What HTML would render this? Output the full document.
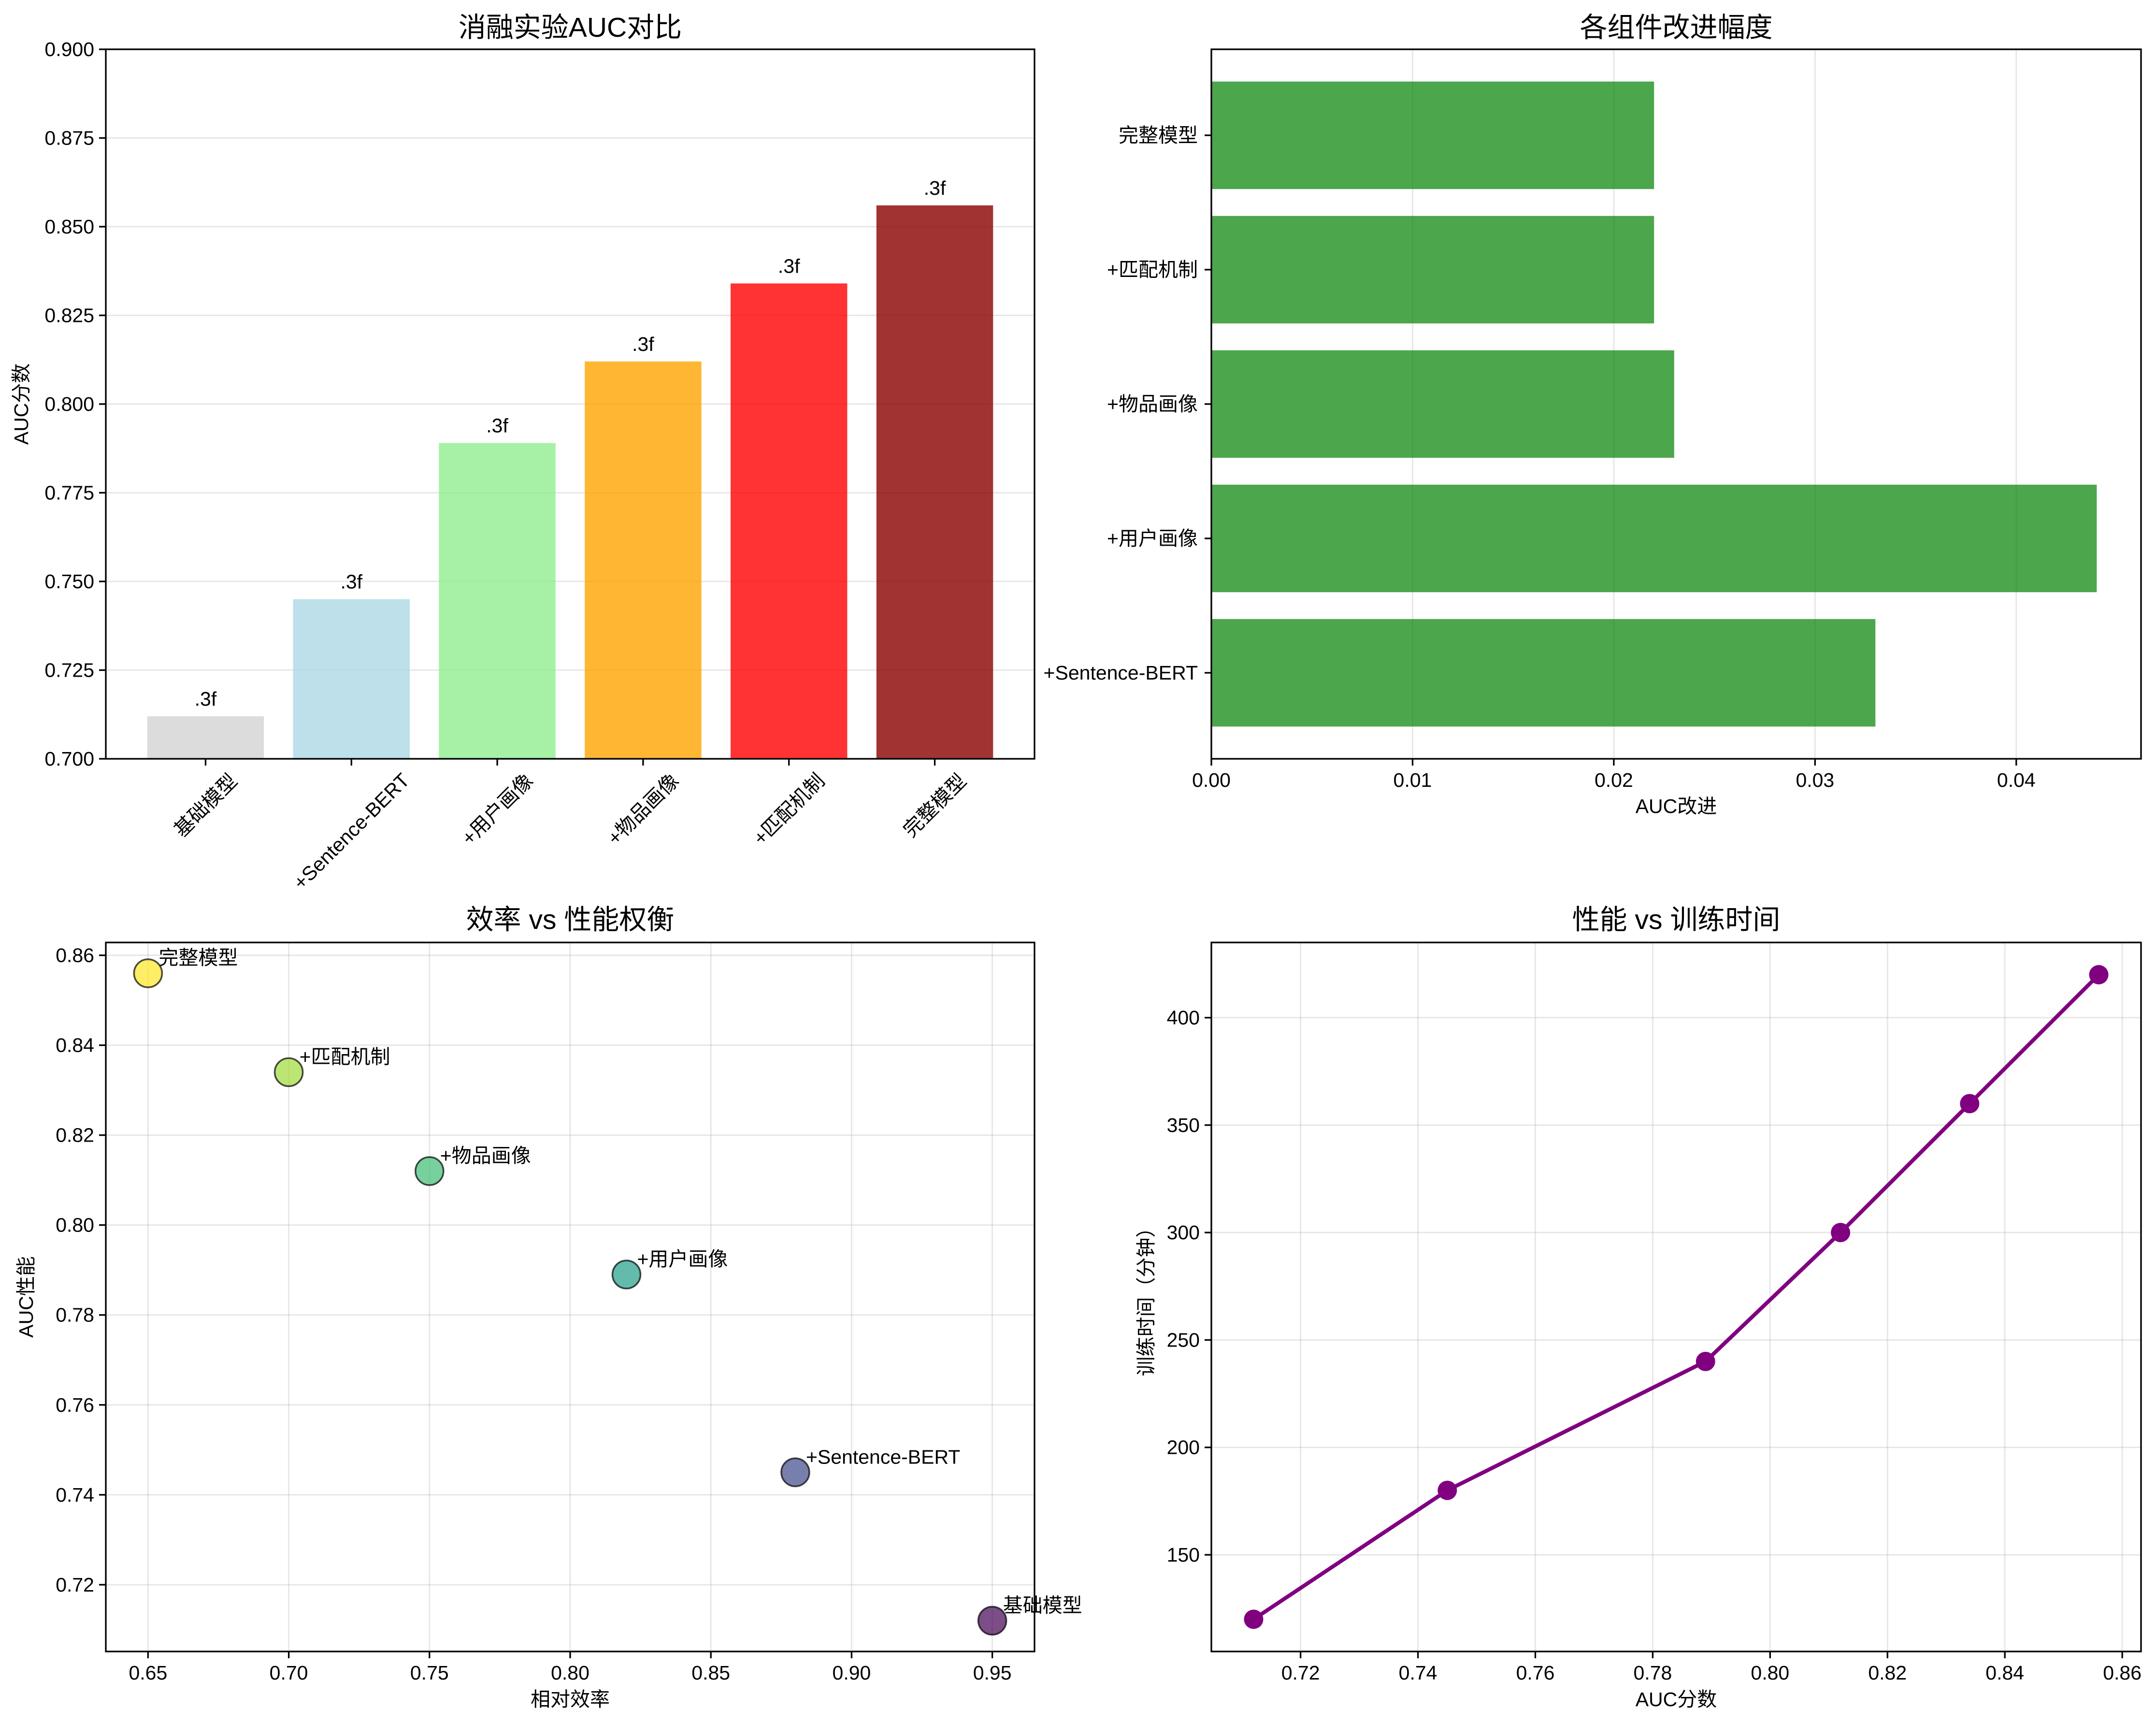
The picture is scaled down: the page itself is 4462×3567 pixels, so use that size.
<!DOCTYPE html>
<html><head><meta charset="utf-8">
<style>
html,body{margin:0;padding:0;background:#fff;}
svg{display:block;}
text{font-family:"Liberation Sans","Noto Sans CJK SC",sans-serif;fill:#000;}
</style></head>
<body>
<svg id="fig" width="4462" height="3567" viewBox="0 0 4462 3567" xmlns="http://www.w3.org/2000/svg"></svg>
<script>
// ---- data ----
const models = ['基础模型','+Sentence-BERT','+用户画像','+物品画像','+匹配机制','完整模型'];
const aucValues = [0.712,0.745,0.789,0.812,0.834,0.856];
const barColors = ['lightgray','lightblue','lightgreen','orange','red','darkred'];
const barLabel = '.3f';
const aucTicks = [0.700,0.725,0.750,0.775,0.800,0.825,0.850,0.875,0.900];
const improveNames = ['+Sentence-BERT','+用户画像','+物品画像','+匹配机制','完整模型'];
const improveValues = [0.033,0.044,0.023,0.022,0.022];
const improveTicks = [0.00,0.01,0.02,0.03,0.04];
const efficiency = [0.95,0.88,0.82,0.75,0.70,0.65];
const effTicksX = [0.65,0.70,0.75,0.80,0.85,0.90,0.95];
const effTicksY = [0.72,0.74,0.76,0.78,0.80,0.82,0.84,0.86];
const scatterColors = ['#440154','#3e4989','#1f9e89','#3fbc73','#a0da39','#fde725'];
const trainTime = [120,180,240,300,360,420];
const timeTicksX = [0.72,0.74,0.76,0.78,0.80,0.82,0.84,0.86];
const timeTicksY = [150,200,250,300,350,400];

const NS='http://www.w3.org/2000/svg';
const svg=document.getElementById('fig');
function mk(tag,attrs,parent,txt){const e=document.createElementNS(NS,tag);for(const k in attrs)e.setAttribute(k,attrs[k]);if(txt!==undefined)e.textContent=txt;(parent||svg).appendChild(e);return e;}
function lin(d0,d1,r0,r1){return v=>r0+(v-d0)/(d1-d0)*(r1-r0);}
const FS=41;

function frame(g,L,T,R,B){
  const f=mk('rect',{x:L,y:T,width:R-L,height:B-T,fill:'none',stroke:'#000','stroke-width':3.3},g);
  
  
}
function title(g,cx,y,t){const e=mk('text',{x:cx,y:y,'font-size':57,'text-anchor':'middle'},g,t);
  }
function xTicks(g,ticks,sx,B,T,fmt,grid){
  ticks.forEach(v=>{const x=sx(v);
    if(grid){const gl=mk('line',{x1:x,x2:x,y1:T,y2:B,stroke:'#b0b0b0','stroke-opacity':0.3,'stroke-width':3},g);}
    mk('line',{x1:x,x2:x,y1:B,y2:B+14,stroke:'#000','stroke-width':3.3},g);
    const t=mk('text',{x:x,y:B+58,'font-size':FS,'text-anchor':'middle'},g,fmt(v));
    });
}
function yTicks(g,ticks,sy,L,R,fmt,grid){
  ticks.forEach(v=>{const y=sy(v);
    if(grid){const gl=mk('line',{x1:L,x2:R,y1:y,y2:y,stroke:'#b0b0b0','stroke-opacity':0.3,'stroke-width':3},g);}
    mk('line',{x1:L-14,x2:L,y1:y,y2:y,stroke:'#000','stroke-width':3.3},g);
    const t=mk('text',{x:L-24,y:y+14,'font-size':FS,'text-anchor':'end'},g,fmt(v));
    });
}
function yLabel(g,x,cy,t){const e=mk('text',{x:x,y:cy,'font-size':FS,'text-anchor':'middle',transform:`rotate(-90 ${x} ${cy})`},g,t);
  }
function xLabel(g,cx,y,t){const e=mk('text',{x:cx,y:y,'font-size':FS,'text-anchor':'middle'},g,t);
  }

// ---- panel 1: bar chart ----
{
  const g=mk('g',{});
  const L=219,R=2141,T=102,B=1570;
  const sx=lin(-0.684,5.684,L,R), sy=lin(0.7,0.9,B,T);
  yTicks(g,aucTicks,sy,L,R,v=>v.toFixed(3),true);
  models.forEach((m,i)=>{
    const x0=sx(i-0.4),x1=sx(i+0.4),y=sy(aucValues[i]);
    const r=mk('rect',{x:x0,y:y,width:x1-x0,height:B-y,fill:barColors[i],'fill-opacity':0.8},g);
    
    const t=mk('text',{x:sx(i),y:y-22,'font-size':FS,'text-anchor':'middle','font-family':'Liberation Mono, monospace'},g,barLabel);
    
    const tx=sx(i);
    mk('line',{x1:tx,x2:tx,y1:B,y2:B+14,stroke:'#000','stroke-width':3.3},g);
    const w=(m.replace(/[^\x00-\x7f]/g,'').length*0.55+m.replace(/[\x00-\x7f]/g,'').length)*FS;
    const cy=B+24+(w+FS)*0.707/2;
    const lb=mk('text',{x:tx,y:cy+14,'font-size':FS,'text-anchor':'middle',transform:`rotate(-45 ${tx} ${cy})`},g,m);
    
  });
  frame(g,L,T,R,B);
  title(g,(L+R)/2,76,'消融实验AUC对比');
  yLabel(g,58,(T+B)/2,'AUC分数');
}
// ---- panel 2: horizontal bar ----
{
  const g=mk('g',{});
  const L=2507,R=4431,T=102,B=1570;
  const xmax=Math.max(...improveValues)*1.05;
  const sx=lin(0,xmax,L,R), sy=lin(-0.64,4.64,B,T);
  xTicks(g,improveTicks,sx,B,T,v=>v.toFixed(2),true);
  improveNames.forEach((n,i)=>{
    const y0=sy(i+0.4),y1=sy(i-0.4);
    const r=mk('rect',{x:L,y:y0,width:sx(improveValues[i])-L,height:y1-y0,fill:'green','fill-opacity':0.7},g);
    
    const y=sy(i);
    mk('line',{x1:L-14,x2:L,y1:y,y2:y,stroke:'#000','stroke-width':3.3},g);
    const t=mk('text',{x:L-28,y:y+14,'font-size':FS,'text-anchor':'end'},g,n);
    
  });
  frame(g,L,T,R,B);
  title(g,(L+R)/2,76,'各组件改进幅度');
  xLabel(g,(L+R)/2,1682,'AUC改进');
}
// ---- panel 3: scatter ----
{
  const g=mk('g',{});
  const L=219,R=2141,T=1950,B=3417;
  const sx=lin(0.635,0.965,L,R), sy=lin(0.70515,0.86285,B,T);
  xTicks(g,effTicksX,sx,B,T,v=>v.toFixed(2),true);
  yTicks(g,effTicksY,sy,L,R,v=>v.toFixed(2),true);
  models.forEach((m,i)=>{
    const cx=sx(efficiency[i]),cy=sy(aucValues[i]);
    const c=mk('circle',{cx:cx,cy:cy,r:29,fill:scatterColors[i],'fill-opacity':0.7,stroke:'#000','stroke-opacity':0.7,'stroke-width':3.5},g);
    
    const t=mk('text',{x:cx+22,y:cy-18,'font-size':FS},g,m);
    
  });
  frame(g,L,T,R,B);
  title(g,(L+R)/2,1922,'效率 vs 性能权衡');
  xLabel(g,(L+R)/2,3530,'相对效率');
  yLabel(g,68,(T+B)/2,'AUC性能');
}
// ---- panel 4: line ----
{
  const g=mk('g',{});
  const L=2507,R=4431,T=1950,B=3417;
  const xr=aucValues[5]-aucValues[0], yr=trainTime[5]-trainTime[0];
  const sx=lin(aucValues[0]-0.05*xr,aucValues[5]+0.05*xr,L,R), sy=lin(trainTime[0]-0.05*yr,trainTime[5]+0.05*yr,B,T);
  xTicks(g,timeTicksX,sx,B,T,v=>v.toFixed(2),true);
  yTicks(g,timeTicksY,sy,L,R,v=>String(v),true);
  const pts=aucValues.map((v,i)=>sx(v)+','+sy(trainTime[i])).join(' ');
  const pl=mk('polyline',{points:pts,fill:'none',stroke:'purple','stroke-width':8,'stroke-linejoin':'round'},g);
  
  aucValues.forEach((v,i)=>{
    const c=mk('circle',{cx:sx(v),cy:sy(trainTime[i]),r:20,fill:'purple'},g);
    
  });
  frame(g,L,T,R,B);
  title(g,(L+R)/2,1922,'性能 vs 训练时间');
  xLabel(g,(L+R)/2,3530,'AUC分数');
  yLabel(g,2386,(T+B)/2,'训练时间（分钟）');
}
</script>
</body></html>
